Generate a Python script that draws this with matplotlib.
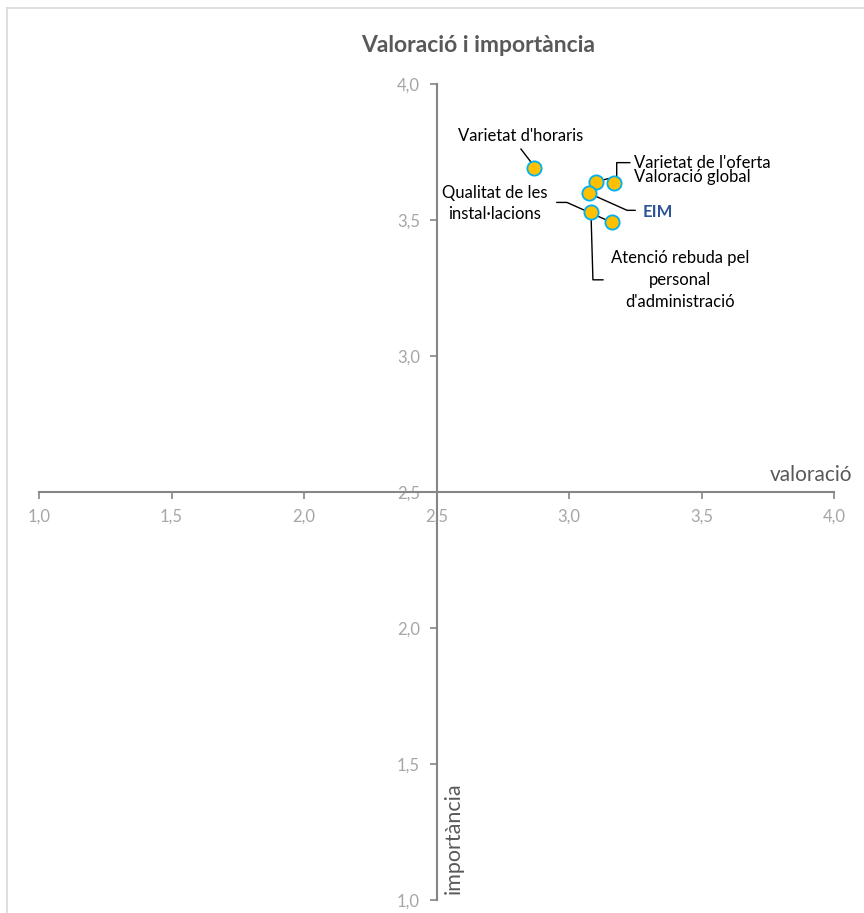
import matplotlib
matplotlib.use("Agg")
import matplotlib.pyplot as plt
from matplotlib.ticker import FuncFormatter, MultipleLocator
from matplotlib.lines import Line2D

plt.rcParams['font.family'] = ['Lato', 'DejaVu Sans']

# data (valoració, importància)
labels = ["Varietat d'horaris", "Varietat de l'oferta", "Valoració global", "EIM",
          "Qualitat de les\ninstal·lacions", "Atenció rebuda pel\npersonal\nd'administració"]
valoracio = [2.867, 3.100, 3.168, 3.075, 3.161, 3.082]
importancia = [3.692, 3.642, 3.636, 3.599, 3.492, 3.531]

# label layout: text offset (px, y down), alignment, leader path offsets
text_offsets = [(-13, -32), (38, -19), (20, -6), (54, 19), (-117, -19), (89, 68)]
text_ha = ['center', 'left', 'left', 'left', 'center', 'center']
leaders = [
    [(-13, -19), (-3, -6)],
    [(34, -19), (21, -19), (21, -5), (0, 0)],
    [],
    [(0, 0), (38, 17), (46, 17)],
    [(-55, -20), (-45, -20), (0, 0)],
    [(0, 0), (2, 68), (12, 68)],
]

W, H = 864, 913
fig = plt.figure(figsize=(W / 100, H / 100), dpi=100)
ax = fig.add_axes([39 / W, 1 - 900 / H, (834.3 - 39) / W, (900 - 84.3) / H])

ax.set_xlim(1.0, 4.0)
ax.set_ylim(1.0, 4.0)

axis_col = '#868686'
for side in ['top', 'right']:
    ax.spines[side].set_visible(False)
ax.spines['left'].set_position(('data', 2.5))
ax.spines['bottom'].set_position(('data', 2.5))
for side in ['left', 'bottom']:
    ax.spines[side].set_color(axis_col)
    ax.spines[side].set_linewidth(1.5)

ax.xaxis.set_major_locator(MultipleLocator(0.5))
ax.yaxis.set_major_locator(MultipleLocator(0.5))
fmt = FuncFormatter(lambda v, p: f"{v:.1f}".replace('.', ','))
ax.xaxis.set_major_formatter(fmt)
ax.yaxis.set_major_formatter(fmt)
ax.tick_params(axis='both', direction='out', length=5, width=1.2, color=axis_col,
               labelcolor='#A6A6A6', labelsize=12, pad=7)

ax.scatter(valoracio, importancia, s=105, facecolor='#FFC000', edgecolor='#00B0F0',
           linewidth=1.3, zorder=5)

# data labels with leader lines (offsets in pixels, image y down)
fig.canvas.draw()
inv = ax.transData.inverted()
for i, lab in enumerate(labels):
    px, py = ax.transData.transform((valoracio[i], importancia[i]))
    dx, dy = text_offsets[i]
    is_eim = lab == "EIM"
    ax.annotate(lab, (valoracio[i], importancia[i]), xytext=(dx * 0.72, -dy * 0.72),
                textcoords='offset points', ha=text_ha[i], va='center',
                multialignment='center', fontsize=12, linespacing=1.45,
                color='#2F5597' if is_eim else 'black',
                fontweight='bold' if is_eim else 'normal', zorder=6)
    if leaders[i]:
        pts = [inv.transform((px + ox, py - oy)) for ox, oy in leaders[i]]
        ax.plot([p[0] for p in pts], [p[1] for p in pts], color='black', lw=1.0,
                zorder=4, clip_on=False)

fig.text(478 / W, 1 - 45 / H, 'Valoració i importància', fontsize=16.5,
         fontweight='bold', color='#595959', ha='center', va='center')

ax.text(4.0 + 18 / 265.1, 2.5 + 17 / 271.9, 'valoració', ha='right', va='center',
        fontsize=15, color='#595959')
ax.text(2.5 + 17 / 265.1, 1.0 + 62 / 271.9, 'importància', rotation=90, ha='center',
        va='center', fontsize=15.5, color='#595959')

# chart area border (partially visible)
fig.add_artist(Line2D([7 / W, 7 / W], [0, 1 - 8 / H], color='#D9D9D9', lw=1.2))
fig.add_artist(Line2D([7 / W, 1], [1 - 8 / H, 1 - 8 / H], color='#D9D9D9', lw=1.2))

fig.savefig('out.png', dpi=100)
